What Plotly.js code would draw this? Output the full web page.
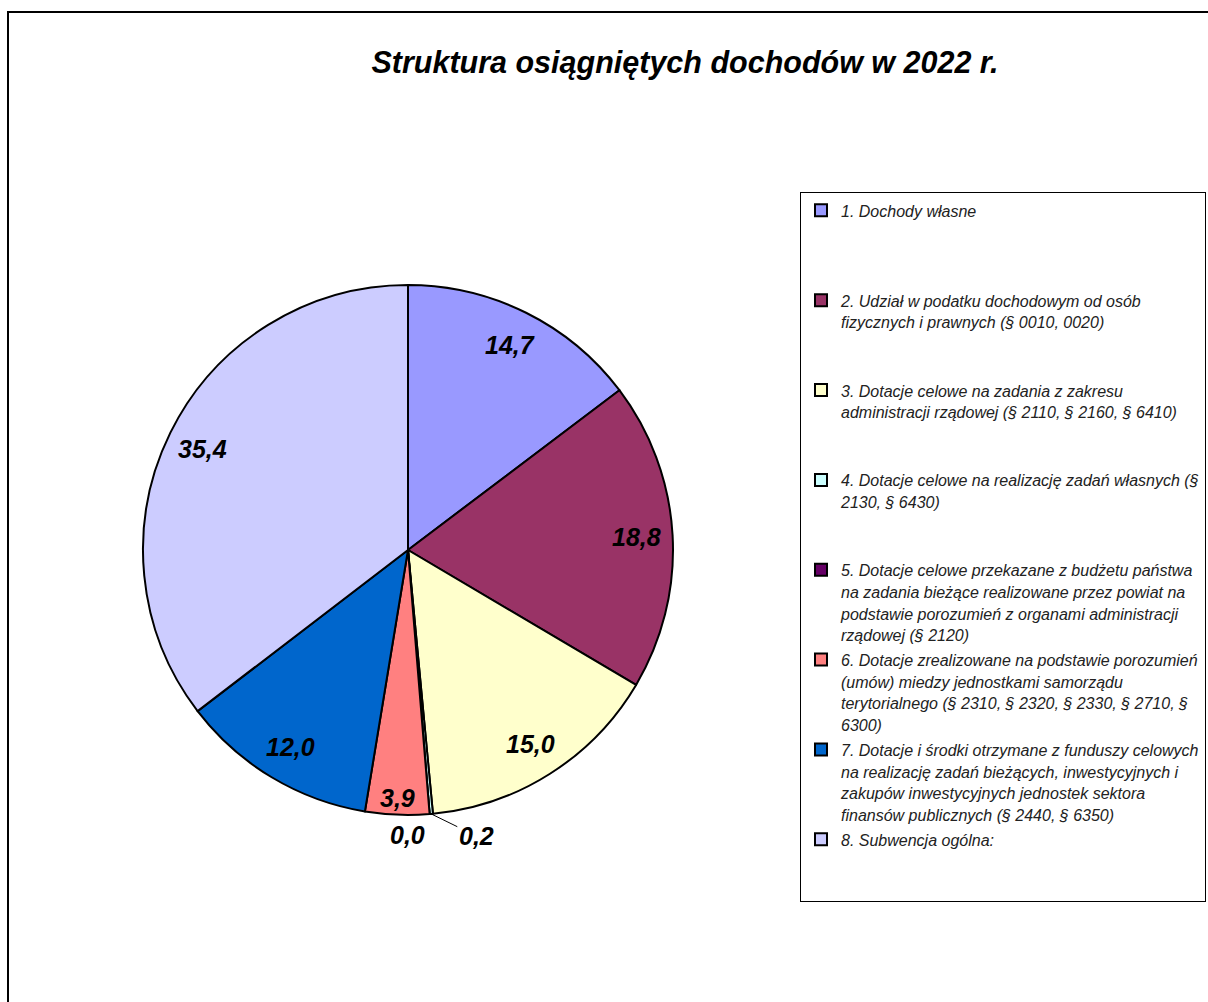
<!DOCTYPE html>
<html>
<head>
<meta charset="utf-8">
<script src="https://cdn.plot.ly/plotly-3.0.1.min.js"></script>
<style>
  html, body { margin: 0; padding: 0; background: #ffffff; }
  #chart { width: 1208px; height: 1002px; }
</style>
</head>
<body>
<div id="chart"></div>
<script>
// ---- data ----
const categories = [
  "1. Dochody własne",
  "2. Udział w podatku dochodowym od osób<br>fizycznych i prawnych (§ 0010, 0020)",
  "3. Dotacje celowe na zadania z zakresu<br>administracji rządowej (§ 2110, § 2160, § 6410)",
  "4. Dotacje celowe na realizację zadań własnych (§<br>2130, § 6430)",
  "5. Dotacje celowe przekazane z budżetu państwa<br>na zadania bieżące realizowane przez powiat na<br>podstawie porozumień z organami administracji<br>rządowej (§ 2120)",
  "6. Dotacje zrealizowane na podstawie porozumień<br>(umów) miedzy jednostkami samorządu<br>terytorialnego (§ 2310, § 2320, § 2330, § 2710, §<br>6300)",
  "7. Dotacje i środki otrzymane z funduszy celowych<br>na realizację zadań bieżących, inwestycyjnych i<br>zakupów inwestycyjnych jednostek sektora<br>finansów publicznych (§ 2440, § 6350)",
  "8. Subwencja ogólna:"
];
const shares = [14.7, 18.8, 15.0, 0.2, 0.0, 3.9, 12.0, 35.4];
const sliceColors = ["#9999FF", "#993366", "#FFFFCC", "#CCFFFF", "#660066", "#FF8080", "#0066CC", "#CCCCFF"];
const chartTitle = "Struktura osiągniętych dochodów w 2022 r.";

// ---- presentation ----
const W = 1208, H = 1002;
const cx = 408, cy = 550, R = 265;
const labelFont = { family: "Liberation Sans, Arial, sans-serif", size: 25, color: "#000000", weight: "bold", style: "italic" };

function fmt(v) { return v.toFixed(1).replace(".", ","); }

// legend entries: padded to equal number of lines so rows are evenly spaced
const legendLabels = categories.map(function (c, i) {
  let n = c.split("<br>").length;
  let s = c;
  const target = (i === categories.length - 1) ? 3 : 4;
  while (n < target) { s += "<br>\u00A0"; n++; }
  return '<span style="font-size:16px">' + s + '</span>';
});

// data labels placed from the cumulative shares (Excel-style, near the rim)
const total = shares.reduce(function (a, b) { return a + b; }, 0);
const annotations = [];
let cum = 0;
let smallCount = 0;
shares.forEach(function (v, i) {
  const theta = 2 * Math.PI * (cum + v / 2) / total;
  cum += v;
  const small = v < 1;
  const r = small ? R : (v < 5 ? R * 0.935 : R * 0.865);
  const px = cx + r * Math.sin(theta);
  const py = cy - r * Math.cos(theta);
  const ann = {
    xref: "paper", yref: "paper",
    x: px / W, y: (H - py) / H,
    text: fmt(v),
    font: labelFont,
    xanchor: "center", yanchor: "middle",
    showarrow: false
  };
  if (small) {
    if (smallCount === 0) {
      ann.showarrow = true;
      ann.arrowhead = 0;
      ann.arrowwidth = 1;
      ann.arrowcolor = "#000000";
      ann.ax = 45; ann.ay = 22;
      ann.standoff = 0;
    } else {
      ann.xshift = -22; ann.yshift = -21;
    }
    smallCount++;
  }
  annotations.push(ann);
});

const trace = {
  type: "pie",
  labels: legendLabels,
  values: shares,
  sort: false,
  direction: "clockwise",
  rotation: 0,
  marker: { colors: sliceColors, line: { color: "#000000", width: 2 } },
  textinfo: "none",
  domain: {
    x: [(cx - R) / W, (cx + R) / W],
    y: [(H - cy - R) / H, (H - cy + R) / H]
  },
  hoverinfo: "none",
  showlegend: true
};

const layout = {
  width: W,
  height: H,
  margin: { l: 0, r: 0, t: 0, b: 0 },
  paper_bgcolor: "#ffffff",
  separators: ", ",
  title: {
    text: chartTitle,
    font: { family: "Liberation Sans, Arial, sans-serif", size: 30.5, color: "#000000", weight: "bold", style: "italic" },
    x: 685 / W, xanchor: "center",
    y: 1 - 62 / H, yanchor: "middle",
    xref: "paper", yref: "container"
  },
  legend: {
    x: 800 / W, xanchor: "left",
    y: 1 - 192 / H, yanchor: "top",
    bgcolor: "#ffffff",
    bordercolor: "#000000",
    borderwidth: 1,
    valign: "top",
    font: { family: "Liberation Sans, Arial, sans-serif", size: 16.7, color: "#222222", style: "italic" },
    itemclick: false,
    itemdoubleclick: false
  },
  annotations: annotations,
  shapes: [{
    type: "rect", xref: "paper", yref: "paper",
    x0: 8 / W, x1: 1.02, y0: -0.02, y1: 1 - 12 / H,
    line: { color: "#000000", width: 2 },
    fillcolor: "rgba(0,0,0,0)",
    layer: "below"
  }]
};

Plotly.newPlot("chart", [trace], layout, { staticPlot: true, displayModeBar: false });
</script>
</body>
</html>
